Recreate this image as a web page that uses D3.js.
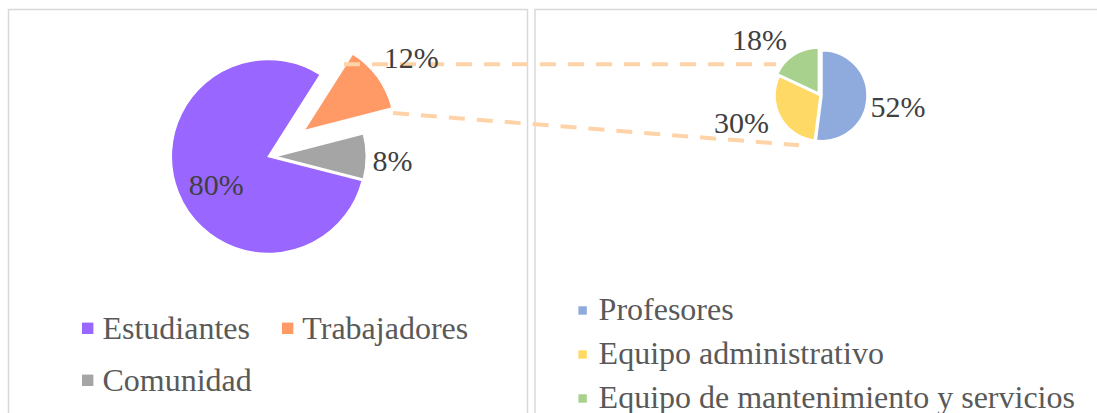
<!DOCTYPE html>
<html>
<head>
<meta charset="utf-8">
<script src="https://cdn.jsdelivr.net/npm/d3@7"></script>
<style>
  body { margin: 0; background: #fff; }
  text { font-family: "Liberation Serif", "Times New Roman", serif; }
</style>
</head>
<body>
<div id="container"></div>
<script>
/* DATA */
const leftCategories = ["Estudiantes", "Trabajadores", "Comunidad"];
const leftValues = [80, 12, 8];
const rightCategories = ["Profesores", "Equipo administrativo", "Equipo de mantenimiento y servicios"];
const rightValues = [52, 30, 18];

/* CONSTANTS AND GLOBALS */
const width = 1097;
const height = 413;
const deg = Math.PI / 180;

const leftColors = ["#9966FF", "#FF9966", "#A5A5A5"];
const rightColors = ["#8FAADC", "#FFD966", "#A9D18E"];

const leftPie = { cx: 268.3, cy: 156.5, start: 104.4, radius: [97, 91, 91], explode: [0, 44, 7] };
const rightPie = { cx: 820, cy: 95.5, start: 0, radius: [45, 45, 45], explode: [2, 0, 3] };

// label placement: "in" = centroid, otherwise outside the slice + small nudge
const leftLabelStyle = [
  { pos: "in", r: 58, dx: 2, dy: 7 },
  { pos: "out", anchor: "start", dx: 1.5, dy: -5.3 },
  { pos: "out", anchor: "start", dx: 0.2, dy: 14.2 }
];
const rightLabelStyle = [
  { pos: "out", anchor: "start", dx: -2.4, dy: 18.2 },
  { pos: "out", anchor: "end", dx: -6.3, dy: 12.9 },
  { pos: "out", anchor: "end", dx: -4, dy: 0 }
];

const svg = d3.select("#container")
  .append("svg")
  .attr("width", width)
  .attr("height", height)

// chart frames
svg.append("rect")
  .attr("x", 8.5).attr("y", 9.5)
  .attr("width", 519).attr("height", 500)
  .attr("fill", "none").attr("stroke", "#D9D9D9").attr("stroke-width", 1.5)
svg.append("rect")
  .attr("x", 535).attr("y", 9.5)
  .attr("width", 600).attr("height", 500)
  .attr("fill", "none").attr("stroke", "#D9D9D9").attr("stroke-width", 1.5)

const sliceLayer = svg.append("g")
const connectorLayer = svg.append("g")
const labelLayer = svg.append("g")

const dir = a => [Math.sin(a), -Math.cos(a)]

function drawPie(cfg, values, colors, labelStyle) {
  const pie = d3.pie().sort(null)
    .startAngle(cfg.start * deg)
    .endAngle(cfg.start * deg + 2 * Math.PI)
  const arcs = pie(values)
  const slices = arcs.map((d, i) => {
    const mid = (d.startAngle + d.endAngle) / 2
    const [ux, uy] = dir(mid)
    const ox = cfg.cx + ux * cfg.explode[i]
    const oy = cfg.cy + uy * cfg.explode[i]
    return { d, i, mid, ox, oy, r: cfg.radius[i] }
  })

  sliceLayer.append("g").selectAll("path")
    .data(slices)
    .join("path")
    .attr("transform", s => `translate(${s.ox},${s.oy})`)
    .attr("d", s => d3.arc().innerRadius(0).outerRadius(s.r)(s.d))
    .attr("fill", s => colors[s.i])
    .attr("stroke", "#fff")
    .attr("stroke-width", 1.5)

  labelLayer.append("g").selectAll("text")
    .data(slices)
    .join("text")
    .attr("font-size", 30)
    .attr("fill", "#404040")
    .each(function (s) {
      const st = labelStyle[s.i]
      const [ux, uy] = dir(s.mid)
      const t = d3.select(this)
      if (st.pos === "in") {
        t.attr("text-anchor", "middle")
          .attr("x", s.ox + ux * st.r + st.dx)
          .attr("y", s.oy + uy * st.r + st.dy + 10)
      } else {
        t.attr("text-anchor", st.anchor)
          .attr("x", s.ox + ux * (s.r + 6) + st.dx)
          .attr("y", s.oy + uy * (s.r + 6) + st.dy)
      }
    })
    .text(s => values[s.i] + "%")

  return slices
}

const ls = drawPie(leftPie, leftValues, leftColors, leftLabelStyle)
const rs = drawPie(rightPie, rightValues, rightColors, rightLabelStyle)

// connector lines from the exploded "Trabajadores" slice to the second pie
const orange = ls[1]
const topVertex = [orange.ox + orange.r * dir(orange.d.startAngle)[0], orange.oy + orange.r * dir(orange.d.startAngle)[1]]
const endVertex = [orange.ox + orange.r * dir(orange.d.endAngle)[0], orange.oy + orange.r * dir(orange.d.endAngle)[1]]
const topY = topVertex[1] + 10.5
const topX = orange.ox + (orange.oy - topY) * Math.tan(orange.d.startAngle) - 2
const lowEndA = 203 * deg
const connectors = [
  [[topX, topY], [rightPie.cx - rightPie.radius[0] + 1, topY]],
  [[endVertex[0] + 1, endVertex[1] + 5],
   [rightPie.cx + (rightPie.radius[1] + 9) * dir(lowEndA)[0], rightPie.cy + (rightPie.radius[1] + 9) * dir(lowEndA)[1]]]
]
connectorLayer.selectAll("line")
  .data(connectors)
  .join("line")
  .attr("x1", d => d[0][0]).attr("y1", d => d[0][1])
  .attr("x2", d => d[1][0]).attr("y2", d => d[1][1])
  .attr("stroke", "#FFD3A8")
  .attr("stroke-width", 4)
  .attr("stroke-dasharray", "16 12")

// legends
function legend(items, colors, opts) {
  const g = svg.append("g")
  items.forEach((name, i) => {
    const row = opts.rows[i]
    const item = g.append("g")
    item.append("rect")
      .attr("width", opts.sq).attr("height", opts.sq)
      .attr("y", row[1] - opts.sq / 2 - opts.shift)
      .attr("fill", colors[i])
    item.append("text")
      .attr("x", opts.sq + opts.gap)
      .attr("y", row[1])
      .attr("font-size", 32)
      .attr("fill", "#595959")
      .text(name)
    item.attr("transform", `translate(${row[0]},0)`)
  })
  return g
}

const leftLegendG = legend(leftCategories, leftColors, {
  sq: 11.4, gap: 9, shift: 10.7,
  rows: [[82, 339], [0, 339], [82, 391]]
})
// second item sits after the first one's text
const firstW = leftLegendG.selectAll("g").nodes()[0].getBBox().width
leftLegendG.selectAll("g").filter((d, i) => i === 1)
  .attr("transform", `translate(${82 + firstW + 32},0)`)

legend(rightCategories, rightColors, {
  sq: 8.4, gap: 11.8, shift: 9,
  rows: [[578.4, 319.5], [578.4, 363.5], [578.4, 407.5]]
})
</script>
</body>
</html>
